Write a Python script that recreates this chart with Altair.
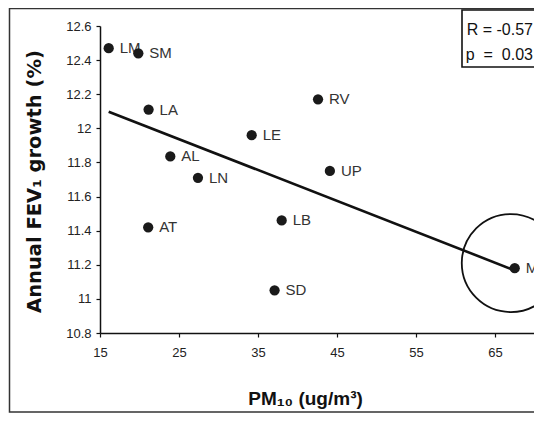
import altair as alt
import pandas as pd

# Data
sites = ["LM", "SM", "LA", "RV", "LE", "AL", "LN", "UP", "AT", "LB", "ML", "SD"]
pm10 = [16.1, 19.85, 21.15, 42.6, 34.2, 23.9, 27.4, 44.1, 21.1, 38.0, 67.5, 37.1]
fev1 = [12.47, 12.44, 12.11, 12.17, 11.96, 11.835, 11.71, 11.75, 11.42, 11.46, 11.18, 11.05]

x_ticks = [15, 25, 35, 45, 55, 65]
y_ticks = [10.8, 11.0, 11.2, 11.4, 11.6, 11.8, 12.0, 12.2, 12.4, 12.6]
x_domain = [15, 69.94]
y_domain = [10.8, 12.6]

highlight_site = ["ML"]
highlight_x = [67.0]
highlight_y = [11.21]

stats_lines = ["R = -0.57", "p\u00a0\u00a0=\u00a0\u00a00.03"]

df = pd.DataFrame({"site": sites, "pm10": pm10, "fev1": fev1})
hl = pd.DataFrame({"site": highlight_site, "pm10": highlight_x, "fev1": highlight_y})
one = pd.DataFrame({"k": [0]})

FONT = "Liberation Sans"

xs = alt.Scale(domain=x_domain, nice=False, zero=False)
ys = alt.Scale(domain=y_domain, nice=False, zero=False)

x_axis = alt.Axis(
    values=x_ticks, title="PM\u2081\u2080 (ug/m\u00b3)", grid=False,
    titleFont=FONT, titleFontSize=19, titleFontWeight="bold", titleColor="#111",
    titleX=205, titleY=65, titleAlign="center", titleBaseline="middle",
    labelFont=FONT, labelFontSize=13, labelColor="#222", labelPadding=9,
    labelOverlap=False, labelBound=False, labelFlush=False,
    tickSize=4, tickColor="#111", domainColor="#111", domainWidth=1.5, tickWidth=1.2,
)
y_axis = alt.Axis(
    values=y_ticks, title="Annual FEV\u2081 growth (%)", grid=False,
    labelExpr="format(datum.value, '~g')",
    titleFont="DejaVu Sans", titleFontSize=19.5, titleFontWeight="bold", titleColor="#111",
    titleAngle=-90, titleX=-66, titleY=155, titleAlign="center", titleBaseline="middle",
    labelFont=FONT, labelFontSize=13, labelColor="#222", labelPadding=5,
    labelOverlap=False, labelBound=False, labelFlush=False,
    tickSize=4, tickColor="#111", domainColor="#111", domainWidth=1.5, tickWidth=1.2,
)

X = alt.X("pm10:Q", scale=xs, axis=x_axis)
Y = alt.Y("fev1:Q", scale=ys, axis=y_axis)

base = alt.Chart(df)

frame = alt.Chart(one).mark_rect(fillOpacity=0, stroke="#333", strokeWidth=1.5, clip=False).encode(
    x=alt.value(-90.5), x2=alt.value(470), y=alt.value(-17.5), y2=alt.value(386)
)

labels = base.mark_text(align="left", baseline="middle", dx=11, font=FONT, fontSize=15,
                        color="#333", clip=False).encode(x=X, y=Y, text="site:N")

points = base.mark_point(filled=True, shape="circle", size=105, color="#1a1a1a",
                         opacity=1).encode(x=X, y=Y)

fit = base.transform_regression("pm10", "fev1").mark_line(
    color="#111", strokeWidth=2.6).encode(x=X, y=Y)

ring = alt.Chart(hl).mark_point(shape="circle", filled=False, size=9604, color="#111",
                                strokeWidth=1.8, opacity=1, clip=False).encode(x=X, y=Y)

box = alt.Chart(one).mark_rect(fill="white", stroke="#111", strokeWidth=1.6, clip=False).encode(
    x=alt.value(362), x2=alt.value(460), y=alt.value(-16), y2=alt.value(41)
)
stat1 = alt.Chart(one).mark_text(text=stats_lines[0], align="right", baseline="middle",
                                 font=FONT, fontSize=16, color="#111", clip=False).encode(
    x=alt.value(433), y=alt.value(3.5)
)
stat2 = alt.Chart(one).mark_text(text=stats_lines[1], align="right", baseline="middle",
                                 font=FONT, fontSize=16, color="#111", clip=False).encode(
    x=alt.value(433), y=alt.value(29)
)

chart = alt.layer(frame, labels, fit, points, ring, box, stat1, stat2).properties(
    width=434, height=307,
    autosize=alt.AutoSizeParams(type="none"),
    padding={"left": 92, "top": 18, "right": 0, "bottom": 80},
    background="white",
).configure_view(stroke=None).configure_axis(labelOverlap=False)

chart.save("out.html", embed_options={"renderer": "svg", "actions": False})
